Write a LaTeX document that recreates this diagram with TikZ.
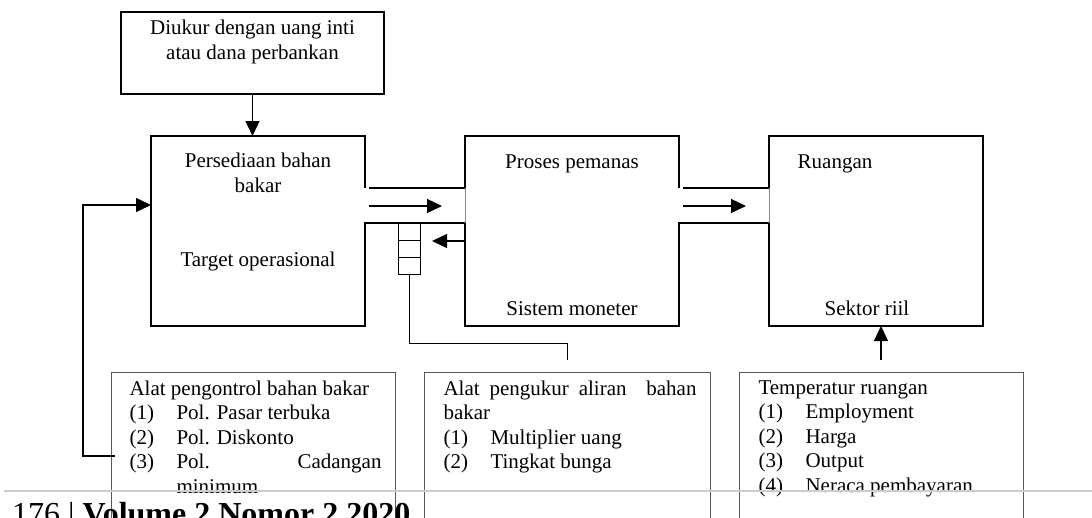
\documentclass[tikz,border=0pt]{standalone}
\usepackage{fontspec}
\setmainfont{Liberation Serif}
\usepackage{tikz}
\usetikzlibrary{arrows.meta,positioning}
\tikzstyle{mainBox} = [rectangle, inner sep=0pt, outer sep=0pt, minimum width=214pt, minimum height=190pt]
\tikzstyle{topBox} = [draw, line width=1.3pt, rectangle, inner sep=0pt, minimum width=263pt, minimum height=82pt]
\tikzstyle{listBox} = [draw=black!65, line width=1pt, rectangle, inner sep=0pt, outer sep=0pt, anchor=north west, minimum height=200pt]
\tikzstyle{cell} = [draw, line width=1pt, rectangle, inner sep=0pt, outer sep=0pt, minimum width=22pt, minimum height=17pt]
\tikzstyle{boxLine} = [line width=1.3pt]
\tikzstyle{gapLine} = [line width=0.5pt, black!45]
\tikzstyle{flowArrow} = [line width=1.3pt, -{Triangle[length=15pt,width=14pt]}]
\newcommand{\nr}[1]{\makebox[47pt][l]{#1}}

\begin{document}
\begin{tikzpicture}[x=1pt,y=-1pt,font=\fontsize{21}{24.5}\selectfont]
		\clip (0,0) rectangle (1092,517);
		% nodes (base = letzte Zeile)
		\node[topBox] (diukur) at (252.5,53) {};									% Kasten oben
		\node[anchor=base, align=center] (diukurText) at ([yshift=-48pt]diukur.north) {Diukur dengan uang inti\\atau dana perbankan};
		\node[mainBox] (vorrat) at (258,231) {};									% Persediaan
		\node[mainBox, right=100pt of vorrat] (pemanas) {};							% Proses pemanas
		\node[mainBox, right=90pt of pemanas] (ruangan) {};							% Ruangan
		\node[anchor=base, align=center] (vorratOben) at ([yshift=-56pt]vorrat.north) {Persediaan bahan\\bakar};
		\node[anchor=base] (vorratUnten) at ([yshift=-130pt]vorrat.north) {Target operasional};
		\node[anchor=base] (pemanasOben) at ([yshift=-32pt]pemanas.north) {Proses pemanas};
		\node[anchor=base] (pemanasUnten) at ([yshift=11pt]pemanas.south) {Sistem moneter};
		\node[anchor=base] (ruanganOben) at ([xshift=-41pt,yshift=-32pt]ruangan.north) {Ruangan};
		\node[anchor=base] (ruanganUnten) at ([xshift=-9pt,yshift=11pt]ruangan.south) {Sektor riil};
		\node[cell] (zelle1) at (409,231.5) {};										% Messzellen
		\node[cell, below=0pt of zelle1] (zelle2) {};
		\node[cell, below=0pt of zelle2] (zelle3) {};
		\node[listBox, minimum width=284pt] (alat) at (111,372) {};					% Kaesten unten
		\node[listBox, minimum width=286pt] (messen) at (424,372) {};
		\node[listBox, minimum width=284pt] (temp) at (739,372) {};
		\node[anchor=base west, align=left] (alatText) at ([shift={(15,121)}]alat.north west) {Alat pengontrol bahan bakar\\
			\nr{(1)}Pol. Pasar terbuka\\
			\nr{(2)}Pol. Diskonto\\
			\nr{(3)}\makebox[205pt][s]{Pol.\hfill Cadangan}\\
			\nr{}minimum};
		\node[anchor=base west, align=left] (messenText) at ([shift={(16,96.5)}]messen.north west) {\makebox[253pt][s]{Alat pengukur aliran\ \ bahan}\\
			bakar\\
			\nr{(1)}Multiplier uang\\
			\nr{(2)}Tingkat bunga};
		\node[anchor=base west, align=left] (tempText) at ([shift={(16,120)}]temp.north west) {Temperatur ruangan\\
			\nr{(1)}Employment\\
			\nr{(2)}Harga\\
			\nr{(3)}Output\\
			\nr{(4)}Neraca pembayaran};
		
		% Rohre zwischen den Kaesten
		\coordinate (rohr1) at (369,188);
		\coordinate (rohr2) at (683,188);
		\coordinate (unten1) at (0,223);
		\coordinate (pfeil1) at (442,206);
		\coordinate (pfeil2) at (746,206);
		\coordinate (zurueck) at (432,241);
		\coordinate (rueck) at (115,456);
		\coordinate (ein) at (0,205);
		
		% Umrisse
		\draw[boxLine] (vorrat.east |- rohr1) -- (vorrat.north east) -- (vorrat.north west) -- (vorrat.south west) -- (vorrat.south east) -- (vorrat.east |- unten1)
			-- (pemanas.west |- unten1) -- (pemanas.south west) -- (pemanas.south east) -- (pemanas.east |- unten1)
			-- (ruangan.west |- unten1) -- (ruangan.south west) -- (ruangan.south east) -- (ruangan.north east) -- (ruangan.north west) -- (ruangan.west |- rohr2);
		\draw[boxLine] (rohr1) -- (pemanas.west |- rohr1) -- (pemanas.north west) -- (pemanas.north east) -- (pemanas.east |- rohr1);
		\draw[boxLine] (rohr2) -- (ruangan.west |- rohr2);
		\draw[gapLine] (pemanas.west |- rohr1) -- (pemanas.west |- unten1);
		\draw[gapLine] (ruangan.west |- rohr2) -- (ruangan.west |- unten1);
		
		% arrows
		\draw[flowArrow] (diukur.south) -- (diukur.south |- vorrat.north);
		\draw[flowArrow] (rohr1 |- pfeil1) -- (pfeil1);
		\draw[flowArrow] (rohr2 |- pfeil2) -- (pfeil2);
		\draw[flowArrow] (pemanas.west |- zurueck) -- (zurueck);
		\draw[line width=1pt] (zelle3.south) -- ++(0,69) -| ([yshift=12pt]messen.north);
		\draw[flowArrow] ([yshift=12pt]temp.north) -- (temp.north |- ruangan.south);
		\draw[flowArrow] (rueck) -- ++(-32,0) |- (vorrat.west |- ein);
		
		% Fusszeile
		\draw[black!20, line width=1.2pt] (4,491) -- (1092,491);
		\node[anchor=base west, inner sep=0pt, font=\fontsize{32}{36}\selectfont] (fusszeile) at (12,524) {176 | \textbf{Volume 2 Nomor 2 2020}};
\end{tikzpicture}
\end{document}
